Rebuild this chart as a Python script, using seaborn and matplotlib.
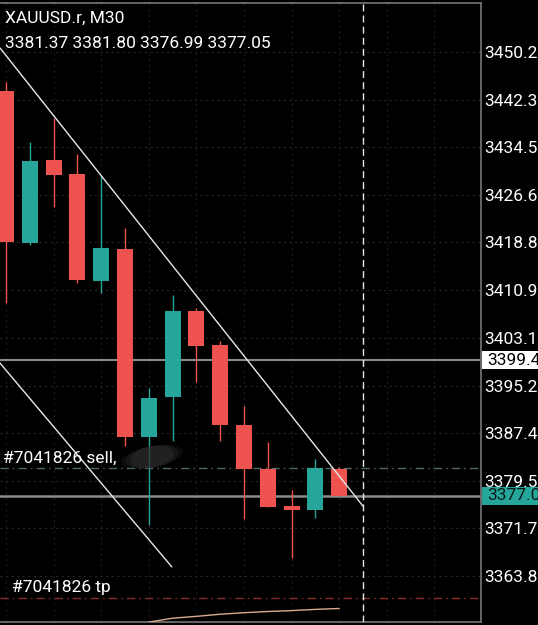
import numpy as np
import pandas as pd
import seaborn as sns
import matplotlib.pyplot as plt
from matplotlib.patches import Rectangle, Ellipse
from matplotlib.transforms import blended_transform_factory

# Chart values
opens = [3443.8, 3418.7, 3432.4, 3430.1, 3412.4, 3417.7, 3386.7, 3393.3, 3407.5, 3401.9, 3388.7, 3381.4, 3375.3, 3374.7, 3381.37]
highs = [3445.3, 3435.4, 3439.3, 3433.4, 3429.9, 3421.2, 3394.8, 3410.1, 3408.0, 3402.5, 3391.8, 3385.9, 3378.0, 3383.1, 3381.80]
lows = [3408.8, 3418.4, 3424.6, 3412.1, 3410.5, 3385.2, 3372.2, 3386.1, 3395.8, 3386.1, 3373.2, 3375.2, 3366.8, 3373.4, 3376.99]
closes = [3418.8, 3432.2, 3429.9, 3412.6, 3417.9, 3386.7, 3393.1, 3407.5, 3401.7, 3388.7, 3381.4, 3375.2, 3374.7, 3381.6, 3377.05]

price_ticks = [3450.2, 3442.3, 3434.5, 3426.6, 3418.8, 3410.9, 3403.1, 3395.2, 3387.4, 3379.5, 3371.7, 3363.8]

trend1_x = [-0.25, 15.0]
trend1_y = [3450.86, 3375.34]
trend2_x = [-0.25, 6.97]
trend2_y = [3398.9, 3365.3]

ind_x = [6, 7, 8, 9, 10, 11, 12, 13, 14]
ind_y = [3356.2, 3356.85, 3357.15, 3357.5, 3357.75, 3357.95, 3358.1, 3358.3, 3358.45]

level_price = 3399.4
bid_price = 3377.05
sell_price = 3381.6
tp_price = 3360.17
now_x = 15

# Setting plot properties.
sns.set_theme(style='dark', rc={'axes.facecolor': 'black', 'figure.facecolor': 'black'})
plt.rcParams['font.family'] = ['Roboto', 'DejaVu Sans']

fig = plt.figure(figsize=(5.38, 6.25), dpi=100)
ax = fig.add_axes([0, 3 / 625, 481 / 538, 619 / 625])
ax.set_facecolor('black')

up_col = '#26a69a'
down_col = '#ef5350'

# Grid (very faint)
for p in price_ticks:
    ax.axhline(p, color='#262626', lw=0.8, ls=(0, (2, 3)), zorder=0)
for gx in range(0, 20, 2):
    ax.axvline(gx, color='#1c1c1c', lw=0.8, ls=(0, (2, 3)), zorder=0)

# Candles
idx = np.arange(len(opens))
cols = [up_col if c >= o else down_col for o, c in zip(opens, closes)]
ax.vlines(idx, lows, highs, colors=cols, lw=1.0, zorder=2)
bottoms = [min(o, c) for o, c in zip(opens, closes)]
heights = [max(abs(c - o), 0.5) for o, c in zip(opens, closes)]
ax.bar(idx, heights, bottom=bottoms, width=0.67, color=cols, linewidth=0, zorder=3)

# Horizontal levels
ax.axhline(level_price, color='#8a8a8a', lw=1.5, zorder=1)
ax.axhline(bid_price, color='#8c8c8c', lw=1.8, zorder=1)
ax.axhline(sell_price, color='#4f6a62', lw=1.0, ls=(0, (6, 3, 1, 3)), zorder=1)
ax.axhline(tp_price, color='#8a2c2c', lw=1.0, ls=(0, (6, 3, 1, 3)), zorder=1)
ax.axvline(now_x, color='#e6e6e6', lw=1.0, ls=(0, (5, 3)), zorder=4)

# Trend lines and indicator
sns.lineplot(x=trend1_x, y=trend1_y, ax=ax, color='#e8e8e8', lw=1.0, zorder=5)
sns.lineplot(x=trend2_x, y=trend2_y, ax=ax, color='#e8e8e8', lw=1.0, zorder=5)
sns.lineplot(x=ind_x, y=ind_y, ax=ax, color='#d9aa90', lw=1.0, zorder=5)

# Configuring axis.
ax.set_xlim(-0.252, 19.96)
ax.set_ylim(3356.22, 3458.28)
ax.set_xticks([])
ax.yaxis.tick_right()
ax.set_yticks(price_ticks)
ax.set_yticklabels([f'{p:.1f}' for p in price_ticks])
ax.tick_params(axis='y', length=0, pad=2, labelsize=12.5, labelcolor='white')
ax.grid(False)
for side in ['top', 'right', 'bottom']:
    ax.spines[side].set_visible(True)
    ax.spines[side].set_color('#777777')
    ax.spines[side].set_linewidth(1.2)
ax.spines['left'].set_visible(False)

# Price boxes on the axis
tr = blended_transform_factory(ax.transAxes, ax.transData)
half = 1.5
ax.add_patch(Rectangle((1.002, level_price - half), 0.2, 2 * half, transform=tr,
                       facecolor='white', edgecolor='none', clip_on=False, zorder=10))
ax.text(1.012, level_price, '3399.4', transform=tr, color='black', fontsize=12.5,
        va='center', ha='left', clip_on=False, zorder=11)
ax.add_patch(Rectangle((1.002, bid_price - half), 0.2, 2 * half, transform=tr,
                       facecolor=up_col, edgecolor='none', clip_on=False, zorder=10))
ax.text(1.012, bid_price, '3377.0', transform=tr, color='#0a1a18', fontsize=12.5,
        va='center', ha='left', clip_on=False, zorder=11)

# Order labels
ax.text(0.006, sell_price + 1.6, '#7041826 sell,', transform=tr, color='white',
        fontsize=12.5, va='center', ha='left', zorder=6)
# blurred patch after the sell label (soft smudge)
for w, a in [(0.13, 0.25), (0.11, 0.35), (0.09, 0.45)]:
    ax.add_patch(Ellipse((152 / 481, 1 - 454 / 619), w, 0.035, angle=8,
                         transform=ax.transAxes, facecolor='#2e2e2e', edgecolor='none',
                         alpha=a, zorder=6))
ax.text(0.025, tp_price + 1.7, '#7041826 tp', transform=tr, color='white',
        fontsize=12.5, va='center', ha='left', zorder=6)

# Header
fig.text(5 / 538, 1 - 18 / 625, 'XAUUSD.r, M30', color='white', fontsize=12.5, va='center', ha='left')
fig.text(5 / 538, 1 - 44 / 625, '3381.37 3381.80 3376.99 3377.05', color='white', fontsize=12.5,
         va='center', ha='left')

fig.savefig('out.png', dpi=100, facecolor='black')
